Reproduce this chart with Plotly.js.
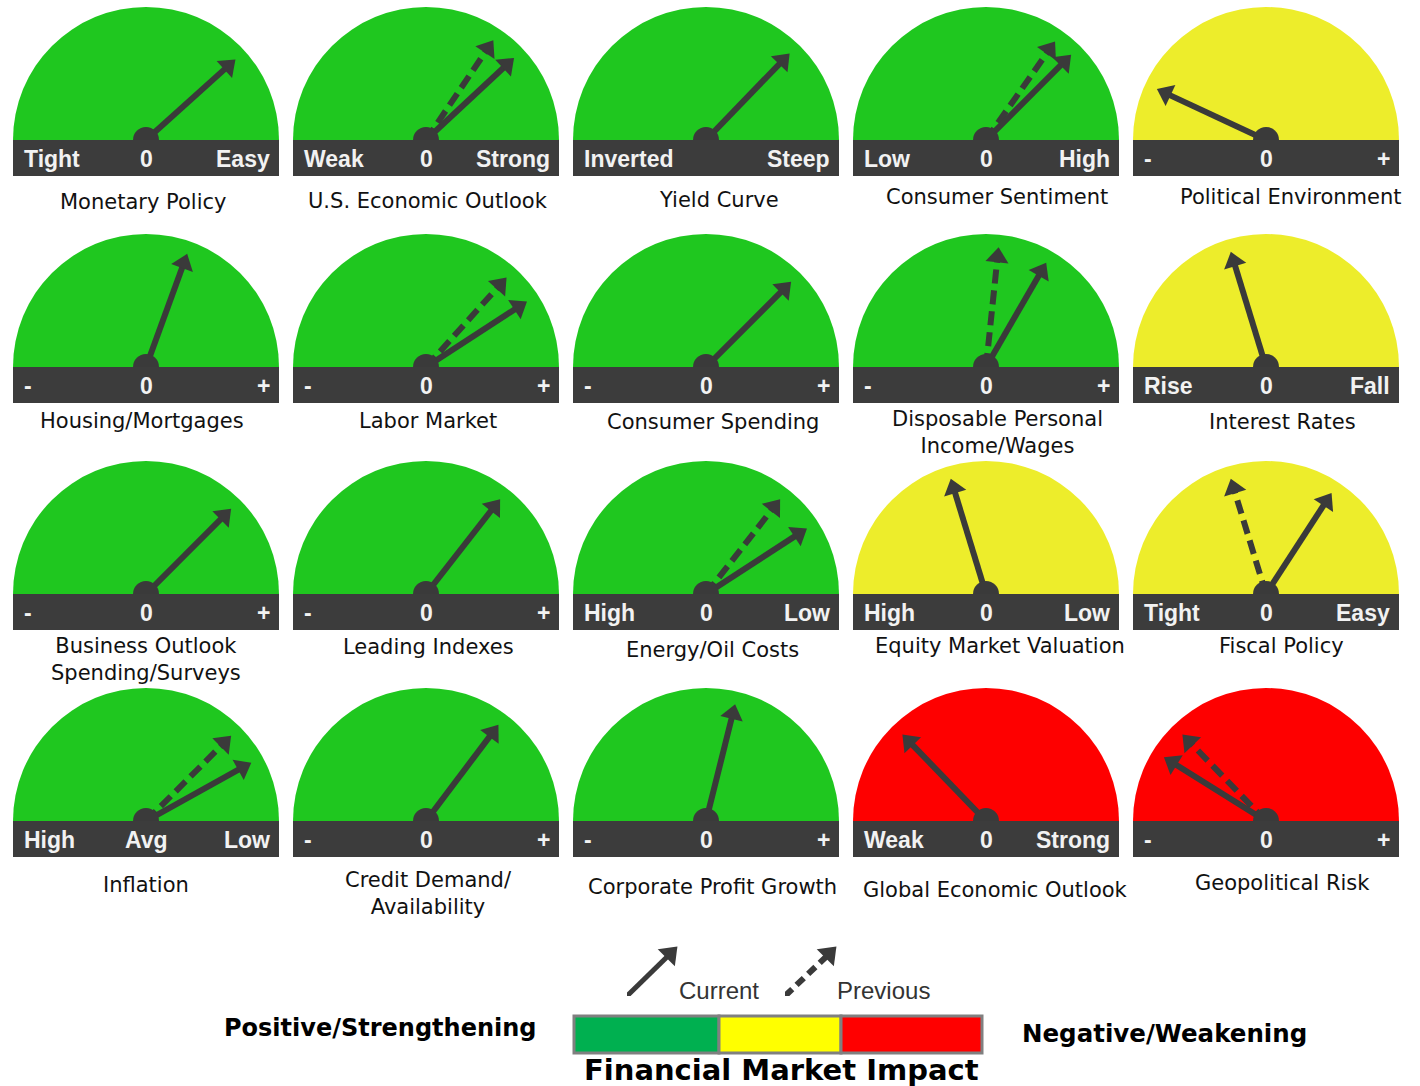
<!DOCTYPE html>
<html><head><meta charset="utf-8">
<script src="https://cdn.plot.ly/plotly-3.0.1.min.js"></script>
<style>html,body{margin:0;padding:0;background:#fff;}</style>
</head><body>
<div id="chart" style="width:1420px;height:1086px"></div>
<script>
// ---------------- DATA ----------------
const titles = [
  'Monetary Policy','U.S. Economic Outlook','Yield Curve','Consumer Sentiment','Political Environment',
  'Housing/Mortgages','Labor Market','Consumer Spending','Disposable Personal<br>Income/Wages','Interest Rates',
  'Business Outlook<br>Spending/Surveys','Leading Indexes','Energy/Oil Costs','Equity Market Valuation','Fiscal Policy',
  'Inflation','Credit Demand/<br>Availability','Corporate Profit Growth','Global Economic Outlook','Geopolitical Risk'
];
const leftLabels = ['Tight','Weak','Inverted','Low','-','-','-','-','-','Rise','-','-','High','High','Tight','High','-','-','Weak','-'];
const centerLabels = ['0','0','','0','0','0','0','0','0','0','0','0','0','0','0','Avg','0','0','0','0'];
const rightLabels = ['Easy','Strong','Steep','High','+','+','+','+','+','Fall','+','+','Low','Low','Easy','Low','+','+','Strong','+'];
const impact = [
  'positive','positive','positive','positive','neutral',
  'positive','positive','positive','positive','neutral',
  'positive','positive','positive','neutral','neutral',
  'positive','positive','positive','negative','negative'
];
// needle readings in degrees from straight up (negative = toward left label, positive = toward right label)
const currentReading = [48,47,44,45,-65, 20,57,45,30,-17, 45,38,57,-17,33, 61,37,14,-44,-58];
const previousReading = [null,34,null,35,null, null,42,null,6,null, null,null,38,null,-17, 45,null,null,null,-44];
const legendKeys = ['Current','Previous'];
const impactScale = ['Positive/Strengthening','Negative/Weakening'];
const impactTitle = 'Financial Market Impact';

// ---------------- STYLE / LAYOUT ----------------
const W = 1420, H = 1086;
const gaugeColors = {positive:'#1fc71f', neutral:'#eded2b', negative:'#fe0000'};
const dark = '#3c3c3c';
const needleColor = '#3a3a3a';
const colLeft = [13, 293, 573, 853, 1133];
const rowBase = [140, 367, 594, 821];
const gaugeW = 266, radiusPx = 133, barH = 36;
const tipR = 0.83;
const titlePos = [
  [143,202],[428,201],[719,200],[997,197],[1291,197],
  [142,421],[428,421],[713,422],[998,432],[1282,422],
  [146,659],[428,647],[712,650],[1000,646],[1281,646],
  [146,885],[428,893],[712,887],[996,890],[1282,883]
];
const px = x => x / W;
const py = y => 1 - y / H;

const traces = [];
const shapes = [];
const annotations = [];
const layout = {
  width: W, height: H, margin: {l:0,r:0,t:0,b:0},
  paper_bgcolor: '#ffffff', plot_bgcolor: 'rgba(0,0,0,0)',
  showlegend: false, hovermode: false
};

function needle(sub, reading, dashed) {
  const theta = 90 - reading;
  traces.push({
    type:'scatterpolar', subplot: sub, mode:'lines',
    r:[0, tipR], theta:[theta, theta],
    line:{color: needleColor, width: 6, dash: dashed ? '14px,7px' : 'solid'},
    hoverinfo:'skip'
  });
  traces.push({
    type:'scatterpolar', subplot: sub, mode:'markers',
    r:[tipR], theta:[theta],
    marker:{symbol:'triangle-up', size: 20, angle: reading, color: needleColor, line:{width:0}},
    hoverinfo:'skip'
  });
}

titles.forEach((t, i) => {
  const row = Math.floor(i / 5), col = i % 5;
  const left = colLeft[col], base = rowBase[row];
  const cx = left + gaugeW / 2;
  const sub = i === 0 ? 'polar' : 'polar' + (i + 1);
  layout[sub] = {
    domain: {x: [px(left), px(left + gaugeW)], y: [py(base), py(base - radiusPx)]},
    sector: [0, 180], hole: 0,
    bgcolor: gaugeColors[impact[i]],
    radialaxis: {visible:false, range:[0,1]},
    angularaxis: {visible:false, rotation:0, direction:'counterclockwise'}
  };
  if (previousReading[i] !== null) needle(sub, previousReading[i], true);
  needle(sub, currentReading[i], false);
  // hub
  traces.push({type:'scatterpolar', subplot: sub, mode:'markers', r:[0], theta:[90],
    marker:{size:26, color: needleColor, line:{width:0}}, hoverinfo:'skip'});
  // dark scale bar
  shapes.push({type:'rect', xref:'paper', yref:'paper', layer:'above',
    x0: px(left), x1: px(left + gaugeW), y0: py(base + barH), y1: py(base),
    fillcolor: dark, line:{width:0}});
  const lf = {family:'Liberation Sans, Arial, sans-serif', size:23, color:'#f2f2f2', weight:'bold'};
  const ly = py(base + barH / 2 + 1);
  annotations.push({xref:'paper', yref:'paper', x: px(left + 9), y: ly, xanchor:'left', yanchor:'middle',
    text: '<b>' + leftLabels[i] + '</b>', showarrow:false, font: lf});
  if (centerLabels[i]) annotations.push({xref:'paper', yref:'paper', x: px(cx), y: ly, xanchor:'center', yanchor:'middle',
    text: '<b>' + centerLabels[i] + '</b>', showarrow:false, font: lf});
  annotations.push({xref:'paper', yref:'paper', x: px(left + gaugeW - 7), y: ly, xanchor:'right', yanchor:'middle',
    text: '<b>' + rightLabels[i] + '</b>', showarrow:false, font: lf});
  // gauge title
  annotations.push({xref:'paper', yref:'paper', x: px(titlePos[i][0]), y: py(titlePos[i][1]),
    xanchor:'center', yanchor:'middle', align:'center', text: t, showarrow:false,
    font:{family:'DejaVu Sans, Verdana, sans-serif', size:21, color:'#111111'}});
});

// ---------------- LEGEND ----------------
const keyBoxes = [[627, 670, 954, 996, 'solid', 5], [785, 829, 954, 996, '10px,6px', 6]];
keyBoxes.forEach((b, k) => {
  const xa = k === 0 ? 'xaxis' : 'xaxis2', ya = k === 0 ? 'yaxis' : 'yaxis2';
  layout[xa] = {domain:[px(b[0]), px(b[1])], range:[0,1], visible:false, fixedrange:true};
  layout[ya] = {domain:[py(b[3]), py(b[2])], range:[0,1], visible:false, fixedrange:true};
  traces.push({type:'scatter', xaxis: k === 0 ? 'x' : 'x2', yaxis: k === 0 ? 'y' : 'y2',
    x:[0,1], y:[0,1], mode:'lines', cliponaxis:false,
    line:{color: needleColor, width: b[5], dash: b[4]}, hoverinfo:'skip'});
  traces.push({type:'scatter', xaxis: k === 0 ? 'x' : 'x2', yaxis: k === 0 ? 'y' : 'y2',
    x:[1], y:[1], mode:'markers', cliponaxis:false,
    marker:{symbol:'triangle-up', size:21, angle:45, color: needleColor, line:{width:0}},
    hoverinfo:'skip'});
});
annotations.push({xref:'paper', yref:'paper', x: px(719), y: py(990), xanchor:'center', yanchor:'middle',
  text: legendKeys[0], showarrow:false, font:{family:'Liberation Sans, Arial, sans-serif', size:24, color:'#333333'}});
annotations.push({xref:'paper', yref:'paper', x: px(884), y: py(990), xanchor:'center', yanchor:'middle',
  text: legendKeys[1], showarrow:false, font:{family:'Liberation Sans, Arial, sans-serif', size:24, color:'#333333'}});

const swatches = [[574, 719, '#00b050'], [719, 841, '#ffff00'], [841, 982, '#ff0000']];
swatches.forEach(s => shapes.push({type:'rect', xref:'paper', yref:'paper', layer:'above',
  x0: px(s[0]), x1: px(s[1]), y0: py(1053), y1: py(1016), fillcolor: s[2], line:{color:'#808080', width:3}}));

annotations.push({xref:'paper', yref:'paper', x: px(381), y: py(1028), xanchor:'center', yanchor:'middle',
  text: '<b>' + impactScale[0] + '</b>', showarrow:false, font:{family:'DejaVu Sans, Verdana, sans-serif', size:24, color:'#000'}});
annotations.push({xref:'paper', yref:'paper', x: px(1164), y: py(1033), xanchor:'center', yanchor:'middle',
  text: '<b>' + impactScale[1] + '</b>', showarrow:false, font:{family:'DejaVu Sans, Verdana, sans-serif', size:24.5, color:'#000'}});
annotations.push({xref:'paper', yref:'paper', x: px(781), y: py(1070), xanchor:'center', yanchor:'middle',
  text: '<b>' + impactTitle + '</b>', showarrow:false, font:{family:'DejaVu Sans, Verdana, sans-serif', size:29, color:'#000'}});

layout.shapes = shapes;
layout.annotations = annotations;
Plotly.newPlot('chart', traces, layout, {staticPlot:true, displayModeBar:false});
</script>
</body></html>
